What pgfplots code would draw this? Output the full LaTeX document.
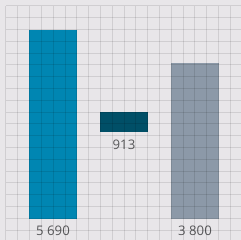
\documentclass[border=0pt]{standalone}
\usepackage{pgfplots}
\pgfplotsset{compat=1.18}
\usepackage{fontspec}
\setmainfont{Open Sans}
\definecolor{bgcol}{HTML}{E8E6E9}
\definecolor{barblue}{HTML}{0086B2}
\definecolor{barteal}{HTML}{004F67}
\definecolor{bargray}{HTML}{8C99A8}
\definecolor{labcol}{HTML}{58585A}
\begin{document}
\begin{tikzpicture}
\begin{axis}[
  at={(0pt,0pt)}, anchor=south west,
  width=241pt, height=240pt, scale only axis,
  xmin=-0.7465, xmax=2.6479,
  ymin=-632.2, ymax=6593.2,
  axis line style={draw=none},
  xtick=\empty, ytick=\empty,
  axis background/.style={fill=bgcol},
  ybar stacked, bar width=0.676,
  clip=false,
]
\addplot[fill=barblue, draw=none] coordinates {(0,5690) (1,0) (2,0)};
\addplot[fill=none, draw=none] coordinates {(0,0) (1,2619) (2,0)};
\addplot[fill=barteal, draw=none] coordinates {(0,0) (1,602) (2,0)};
\addplot[fill=bargray, draw=none] coordinates {(0,0) (1,0) (2,4697)};
\node[text=labcol, font=\fontsize{13.2}{15}\selectfont] at (axis cs:0,-367) {5 690};
\node[text=labcol, font=\fontsize{13.2}{15}\selectfont] at (axis cs:1,2228) {913};
\node[text=labcol, font=\fontsize{13.2}{15}\selectfont] at (axis cs:2,-367) {3 800};
\end{axis}
\begin{axis}[
  at={(6pt,0pt)}, anchor=south west,
  width=235pt, height=234pt, scale only axis,
  xmin=0, xmax=235, ymin=0, ymax=234, y dir=reverse,
  axis line style={draw=none},
  xtick={0,11.8,...,225}, ytick={0,11.8,...,225},
  xticklabels={}, yticklabels={},
  major tick length=0pt,
  grid=major,
  major grid style={black, opacity=0.1, line width=1pt},
]
\end{axis}
\pgfresetboundingbox
\useasboundingbox (0pt,0pt) rectangle (241pt,240pt);
\end{tikzpicture}
\end{document}
